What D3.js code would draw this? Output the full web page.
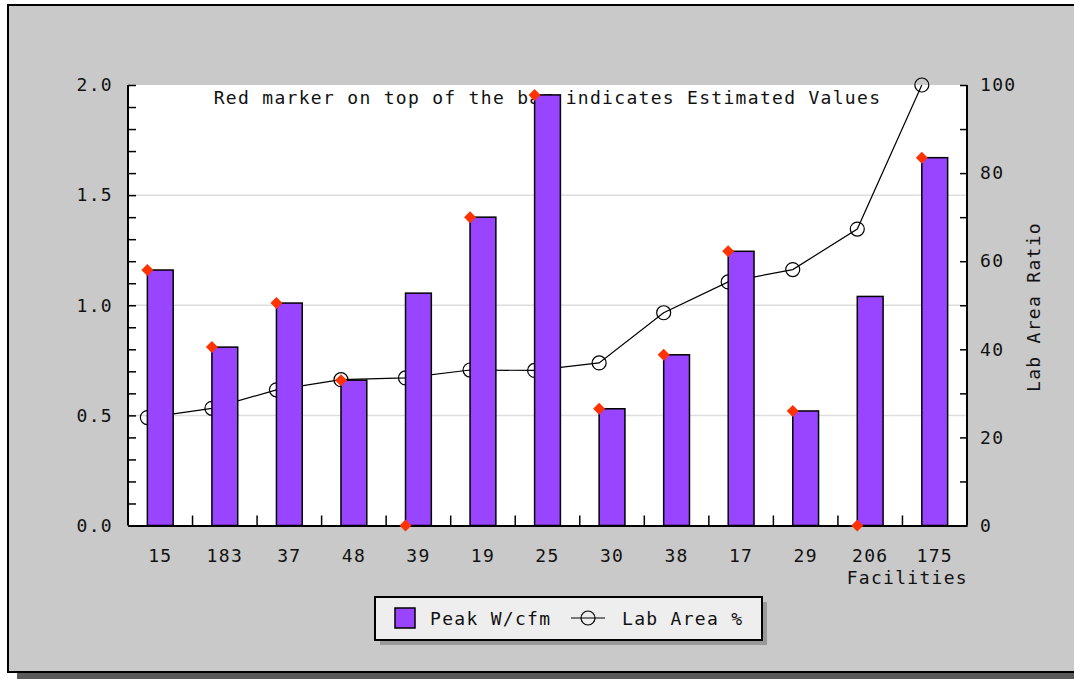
<!DOCTYPE html>
<html>
<head>
<meta charset="utf-8">
<script src="https://cdn.jsdelivr.net/npm/d3@7"></script>
<style>
    body { margin: 0; background: #ffffff; }
    svg text { font-family: "DejaVu Sans Mono", monospace; font-size: 18px; letter-spacing: 1.3px; fill: #111; }
</style>
</head>
<body>
<svg id="chart" width="1074" height="679"></svg>
<script>

// values
var facilities = ["15", "183", "37", "48", "39", "19", "25", "30", "38", "17", "29", "206", "175"];
var peakWcfm = [1.16, 0.81, 1.01, 0.66, 1.055, 1.40, 1.955, 0.53, 0.775, 1.245, 0.52, 1.04, 1.67];
var estimatedMarker = [1.16, 0.81, 1.01, 0.66, 0, 1.40, 1.955, 0.53, 0.775, 1.245, 0.52, 0, 1.67];
var labAreaPct = [24.5, 26.6, 30.8, 33.1, 33.5, 35.3, 35.2, 36.9, 48.3, 55.3, 58.1, 67.3, 100];

var leftLabels = [0, 0.5, 1.0, 1.5, 2.0];
var rightLabels = [0, 20, 40, 60, 80, 100];

var purple = "#9944ff";
var red = "#ff3300";

var svg = d3.select("#chart");

// frame with shadow
svg.append("rect").attr("x", 17).attr("y", 10).attr("width", 1080).attr("height", 669).attr("fill", "#5a5a5a");
svg.append("rect").attr("x", 8).attr("y", 5).attr("width", 1080).attr("height", 667)
    .attr("fill", "#c9c9c9").attr("stroke", "#000").attr("stroke-width", 2);

var plotLeft = 128, plotRight = 967, plotTop = 85, plotBottom = 525.5;

var x = d3.scaleBand().domain(facilities).range([plotLeft, plotRight]);
var y = d3.scaleLinear().domain([0, 2]).range([plotBottom, plotTop]);
var yR = d3.scaleLinear().domain([0, 100]).range([plotBottom, plotTop]);

var barW = x.bandwidth() * 0.4;
function barLeft(i) {
    return x(facilities[i]) + x.bandwidth() / 2 - barW / 2;
}

svg.append("rect").attr("x", plotLeft).attr("y", plotTop)
    .attr("width", plotRight - plotLeft).attr("height", plotBottom - plotTop).attr("fill", "#fff");

// grid lines
svg.append("g").selectAll("line")
    .data([0.5, 1.0, 1.5])
    .enter().append("line")
    .attr("x1", plotLeft).attr("x2", plotRight)
    .attr("y1", function (d) { return y(d); })
    .attr("y2", function (d) { return y(d); })
    .attr("stroke", "#dddddd").attr("stroke-width", 1.5);

svg.append("text")
    .attr("x", (plotLeft + plotRight) / 2)
    .attr("y", 104)
    .attr("text-anchor", "middle")
    .text("Red marker on top of the bar indicates Estimated Values");

// lab area line, drawn under the bars
var line = d3.line()
    .x(function (d, i) { return barLeft(i); })
    .y(function (d) { return yR(d); });

svg.append("path")
    .datum(labAreaPct)
    .attr("d", line)
    .attr("fill", "none")
    .attr("stroke", "#000")
    .attr("stroke-width", 1.2);

svg.append("g").selectAll("circle")
    .data(labAreaPct)
    .enter().append("circle")
    .attr("cx", function (d, i) { return barLeft(i); })
    .attr("cy", function (d) { return yR(d); })
    .attr("r", 7)
    .attr("fill", "none")
    .attr("stroke", "#000")
    .attr("stroke-width", 1.2);

svg.append("g").selectAll("rect")
    .data(peakWcfm)
    .enter().append("rect")
    .attr("x", function (d, i) { return barLeft(i); })
    .attr("y", function (d) { return y(d); })
    .attr("width", barW)
    .attr("height", function (d) { return plotBottom - y(d); })
    .attr("fill", purple)
    .attr("stroke", "#000")
    .attr("stroke-width", 1.5);

// axes
var leftAxis = d3.axisLeft(y)
    .tickValues(d3.range(0, 21).map(function (i) { return i / 10; }))
    .tickSize(-8)
    .tickPadding(15)
    .tickFormat(function (d) {
        return leftLabels.some(function (v) { return Math.abs(v - d) < 1e-6; }) ? d.toFixed(1) : "";
    });

var gl = svg.append("g").attr("transform", "translate(" + plotLeft + ",0)").call(leftAxis);

var rightAxis = d3.axisRight(yR)
    .tickValues(d3.range(0, 11).map(function (i) { return i * 10; }))
    .tickSize(-7)
    .tickPadding(13)
    .tickFormat(function (d) { return rightLabels.indexOf(d) >= 0 ? d : ""; });

var gr = svg.append("g").attr("transform", "translate(" + plotRight + ",0)").call(rightAxis);

var bottomAxis = d3.axisBottom(x).tickSize(0).tickPadding(24);
var gb = svg.append("g").attr("transform", "translate(0," + plotBottom + ")").call(bottomAxis);

// category boundary ticks
gb.append("g").selectAll("line")
    .data(facilities.slice(1))
    .enter().append("line")
    .attr("x1", function (d) { return x(d); })
    .attr("x2", function (d) { return x(d); })
    .attr("y1", 0).attr("y2", -10)
    .attr("stroke", "#000").attr("stroke-width", 1.5);

[gl, gr, gb].forEach(function (g) {
    g.select(".domain").attr("stroke", "#000").attr("stroke-width", 2);
    g.selectAll(".tick line").attr("stroke", "#000").attr("stroke-width", 1.5);
    g.selectAll("text").attr("font-family", null).attr("font-size", null).attr("fill", "#111");
});
gl.select(".domain").attr("d", "M0," + plotTop + "V" + plotBottom);
gr.select(".domain").attr("d", "M0," + plotTop + "V" + plotBottom);

// red markers at the left corner of each bar
svg.append("g").selectAll("path")
    .data(estimatedMarker)
    .enter().append("path")
    .attr("d", d3.symbol(d3.symbolSquare, 72))
    .attr("transform", function (d, i) { return "translate(" + barLeft(i) + "," + y(d) + ") rotate(45)"; })
    .attr("fill", red);

svg.append("text")
    .attr("x", 968)
    .attr("y", 584)
    .attr("text-anchor", "end")
    .text("Facilities");

svg.append("text")
    .attr("transform", "translate(1040,307) rotate(-90)")
    .attr("text-anchor", "middle")
    .text("Lab Area Ratio");

// legend
var lg = svg.append("g");
lg.append("rect").attr("x", 380).attr("y", 602).attr("width", 387).attr("height", 43).attr("fill", "#999");
lg.append("rect").attr("x", 375).attr("y", 597).attr("width", 387).attr("height", 43)
    .attr("fill", "#eeeeee").attr("stroke", "#000").attr("stroke-width", 2);
lg.append("rect").attr("x", 395).attr("y", 608).attr("width", 20).attr("height", 20)
    .attr("fill", purple).attr("stroke", "#000").attr("stroke-width", 1.5);
lg.append("text").attr("x", 430).attr("y", 625).text("Peak W/cfm");
lg.append("line").attr("x1", 571).attr("x2", 605).attr("y1", 618).attr("y2", 618)
    .attr("stroke", "#000").attr("stroke-width", 1.2);
lg.append("circle").attr("cx", 588).attr("cy", 618).attr("r", 7)
    .attr("fill", "none").attr("stroke", "#000").attr("stroke-width", 1.2);
lg.append("text").attr("x", 622).attr("y", 625).text("Lab Area %");

</script>
</body>
</html>
